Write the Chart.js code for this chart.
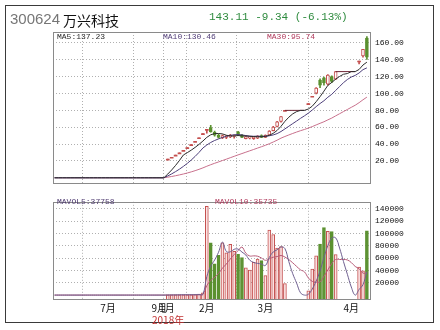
<!DOCTYPE html>
<html lang="zh">
<head>
<meta charset="utf-8">
<title>300624 万兴科技</title>
<script src="https://cdn.jsdelivr.net/npm/chart.js@4.4.1/dist/chart.umd.min.js"></script>
<style>
  html, body { margin: 0; padding: 0; background: #fff; }
  #stage { position: relative; width: 440px; height: 330px; overflow: hidden; background: #fff; }
  #frame { position: absolute; left: 5px; top: 5px; width: 429px; height: 318px; border: 1px solid #3a3a3a; box-sizing: border-box; }
  canvas { position: absolute; left: 0; }
  .txt { position: absolute; white-space: nowrap; line-height: 1; }
  .mono { font-family: 'Liberation Mono', monospace; font-size: 8px; }
</style>
</head>
<body>
<div id="stage">
  <div id="frame"></div>
  <canvas id="kline" width="440" height="193" style="top:0"></canvas>
  <canvas id="vol" width="440" height="137" style="top:193px"></canvas>

  <div class="txt" style="left:10px;top:10px;font:15px 'Liberation Sans',sans-serif;color:#767676">300624</div>
  <div class="txt" style="left:63px;top:10px;font:14px 'Noto Sans CJK SC',sans-serif;color:#111">万兴科技</div>
  <div class="txt" style="left:209px;top:11px;font:11px 'Liberation Mono',monospace;color:#2e8b3e">143.11 -9.34 (-6.13%)</div>

  <div class="txt mono" style="left:57px;top:33px;color:#2a2a2a">MA5:137.23</div>
  <div class="txt mono" style="left:163px;top:33px;color:#54407a">MA10:130.46</div>
  <div class="txt mono" style="left:267px;top:33px;color:#b03a5c">MA30:95.74</div>

  <div class="txt mono" style="left:57px;top:198px;color:#4e3a70">MAVOL5:37758</div>
  <div class="txt mono" style="left:215px;top:198px;color:#b03a5c">MAVOL10:35735</div>

  <div class="txt" style="left:152px;top:312px;font:10px 'Noto Sans CJK SC',sans-serif;color:#c03030">2018年</div>
</div>
<script>
// Daily sessions from the listing day on; null marks a suspended session.
const open  = [22.19,24.41,26.85,29.54,32.49,35.74,39.31,43.24,47.56,52.32,
               57.55,59.5,54,50.5,47.5,48,48.5,49,54.5,50.5,
               46.5,47,46.5,47,50,48,51,56,61,67,
               80,null,null,null,null,null,88,96.8,100.5,116,
               118.5,111,120,117,null,null,null,null,null,138.59,
               144.6,165.8];
const high  = [22.19,24.41,26.85,29.54,32.49,35.74,39.31,43.24,47.56,52.32,
               57.55,62.2,55.5,52,51,50.5,51.5,51,55,51.5,
               49.5,49,49,50,51,51,56,61,67,72.7,
               80,null,null,null,null,null,88,96.8,107,117.5,
               119.5,122.5,121,126,null,null,null,null,null,138.59,
               152.45,167.7];
const low   = [22.19,24.41,26.85,29.54,32.49,35.74,39.31,43.24,47.56,52.32,
               52.9,54,49.5,47,46.5,46.5,47.5,47,50,47.5,
               46,46,45.5,46.5,47.5,47.5,50.5,55.5,60.5,66,
               80,null,null,null,null,null,88,96.8,99.5,107,
               110,110,113,116.5,null,null,null,null,null,135,
               143,140.5];
const close = [22.19,24.41,26.85,29.54,32.49,35.74,39.31,43.24,47.56,52.32,
               57.55,54.5,50.5,48,50,49.5,50.5,50,50.7,48,
               49,48.5,48.5,49.5,48,50.5,55.5,60.3,66.5,72.7,
               80,null,null,null,null,null,88,96.8,106.5,110,
               113,121.8,114.45,126,null,null,null,null,null,138.59,
               152.45,143.11];
const volume = [600,600,600,600,600,600,600,700,1500,3500,
                144000,84900,50600,64400,84900,68500,82300,71100,66000,60900,
                44100,40500,53200,58300,55800,31800,105300,98100,76200,78800,
                18500,null,null,null,null,null,7000,42100,63500,82800,
                109400,103300,103000,65560,null,null,null,null,null,45500,
                39290,104000];

// Empty sessions shown before the listing day
const PAD = 29;
// Axis labels
const monthTicks  = [-15.3, -2.2, -0.2, 10, 25, 47];
const monthLabels = ['7月', '9月', '1月', '2月', '3月', '4月'];
const priceTicks  = [20, 40, 60, 80, 100, 120, 140, 160];
const volumeTicks = [20000, 40000, 60000, 80000, 100000, 120000, 140000];

const UP = '#c4504f', DOWN = '#5b9130', UP_FILL = '#ffffff';
const VOL_UP_FILL = '#fbe3e3';

// price carried through suspensions, zero volume while suspended
const closeFilled = [];
close.forEach((c, i) => closeFilled.push(c == null ? closeFilled[i - 1] : c));
const volFilled = volume.map(v => (v == null ? 0 : v));

function movingAverage(series, n) {
  const out = [];
  for (let i = -PAD; i < series.length; i++) {
    let s = 0;
    for (let k = i - n + 1; k <= i; k++) s += k >= 0 ? series[k] : 0;
    out.push({ x: i, y: s / n });
  }
  return out;
}

// horizontal segments through each suspension, at the last traded close
const haltSegments = [];
for (let i = 0; i < close.length; i++) {
  if (close[i] == null && close[i - 1] != null) {
    let j = i;
    while (close[j] == null) j++;
    haltSegments.push([{ x: i - 1, y: close[i - 1] }, { x: j - 1, y: close[i - 1] }]);
  }
}

const candles = [];
close.forEach((c, i) => {
  if (c == null) return;
  candles.push({ i, o: open[i], h: high[i], l: low[i], c, up: c >= open[i] });
});

const X_MIN = -29.4, X_MAX = 52.05;

const boxPlugin = {
  id: 'box',
  afterDraw(chart) {
    const { ctx, chartArea: a } = chart;
    ctx.save();
    ctx.strokeStyle = '#8a8a8a';
    ctx.lineWidth = 1;
    ctx.strokeRect(Math.round(a.left) + 0.5, Math.round(a.top) + 0.5,
                   Math.round(a.right - a.left) - 1, Math.round(a.bottom - a.top) - 1);
    ctx.restore();
  }
};

const gridStyle = { color: '#b0b0b0', lineWidth: 1, drawTicks: false };
const dotted = { display: false, dash: [1, 2] };
const tickFont = { family: "'Liberation Mono', monospace", size: 8 };

function xScale(showLabels, height) {
  return {
    type: 'linear', min: X_MIN, max: X_MAX, offset: false,
    afterBuildTicks: s => { s.ticks = monthTicks.map(v => ({ value: v })); },
    afterFit: s => { s.height = height; },
    grid: gridStyle, border: dotted,
    ticks: {
      display: showLabels, autoSkip: false, maxRotation: 0, padding: 2,
      color: '#111', font: { family: "'Noto Sans CJK SC', sans-serif", size: 10 },
      callback: (v, idx) => monthLabels[idx]
    }
  };
}

function yScale(min, max, ticks, fmt) {
  return {
    type: 'linear', position: 'right', min, max,
    afterBuildTicks: s => { s.ticks = ticks.map(v => ({ value: v })); },
    afterFit: s => { s.width = 69; },
    grid: gridStyle, border: dotted,
    ticks: { color: '#111', font: tickFont, padding: 4, callback: fmt }
  };
}

const maLine = (n, color) => ({
  type: 'line', data: movingAverage(closeFilled, n), borderColor: color,
  borderWidth: 1, pointRadius: 0, tension: 0, order: 0
});

new Chart(document.getElementById('kline'), {
  type: 'bar',
  data: {
    datasets: [
      maLine(5, '#2c2c2c'),
      maLine(10, '#4d3f7a'),
      maLine(30, '#c8708c'),
      ...haltSegments.map(seg => ({
        type: 'line', data: seg, borderColor: '#6e2636', borderWidth: 1,
        pointRadius: 0, order: 0
      })),
      {
        // candle bodies
        data: candles.map(k => ({ x: k.i, y: [k.o, k.c], up: k.up, flat: k.o === k.c })),
        barThickness: 3, grouped: false, minBarLength: 1, borderSkipped: false,
        borderWidth: ctx => (ctx.raw && ctx.raw.flat ? 0 : 1),
        backgroundColor: ctx => (!ctx.raw ? UP : ctx.raw.up ? (ctx.raw.flat ? UP : UP_FILL) : DOWN),
        borderColor: ctx => (ctx.raw && ctx.raw.up ? UP : DOWN),
        order: 1
      },
      {
        // wicks
        data: candles.map(k => ({ x: k.i, y: [k.l, k.h], up: k.up })),
        barThickness: 1, grouped: false, minBarLength: 0,
        backgroundColor: ctx => (ctx.raw && ctx.raw.up ? UP : DOWN),
        order: 2
      }
    ]
  },
  options: {
    responsive: false, animation: false, events: [],
    layout: { padding: { left: 53, top: 32, right: 0, bottom: 0 } },
    plugins: { legend: { display: false }, tooltip: { enabled: false } },
    scales: {
      x: xScale(false, 4),
      y: yScale(-7.6, 173, priceTicks, v => v.toFixed(2))
    }
  },
  plugins: [boxPlugin]
});

const volLine = (n, color) => ({
  type: 'line', data: movingAverage(volFilled, n), borderColor: color,
  borderWidth: 1, pointRadius: 0, tension: 0.4, order: 0
});

new Chart(document.getElementById('vol'), {
  type: 'bar',
  data: {
    datasets: [
      volLine(5, '#6f6090'),
      volLine(10, '#b65a78'),
      {
        data: candles.map(k => ({ x: k.i, y: volume[k.i], up: k.up })),
        base: -7960, barThickness: 3, grouped: false, borderSkipped: false, borderWidth: 1,
        backgroundColor: ctx => (ctx.raw && ctx.raw.up ? VOL_UP_FILL : DOWN),
        borderColor: ctx => (ctx.raw && ctx.raw.up ? UP : DOWN),
        order: 1
      }
    ]
  },
  options: {
    responsive: false, animation: false, events: [],
    layout: { padding: { left: 53, top: 3, right: 0, bottom: 0 } },
    plugins: { legend: { display: false }, tooltip: { enabled: false } },
    scales: {
      x: xScale(true, 30),
      y: yScale(-7960, 151200, volumeTicks, v => String(v))
    }
  },
  plugins: [boxPlugin]
});
</script>
</body>
</html>
